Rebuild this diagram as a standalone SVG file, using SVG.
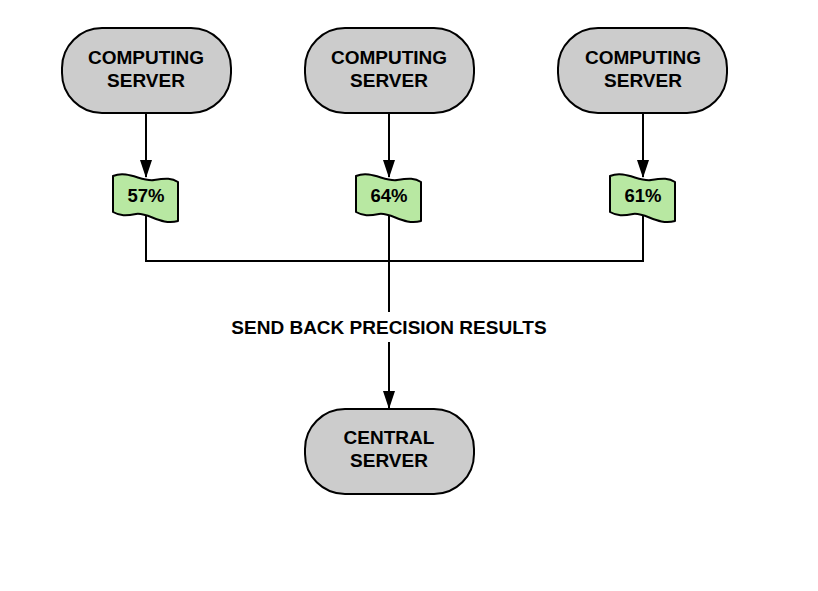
<svg xmlns="http://www.w3.org/2000/svg" width="818" height="591" viewBox="0 0 818 591">
<style>
.node{fill:#cccccc;stroke:#000;stroke-width:2}
.flag{fill:#b8e8a2;stroke:#000;stroke-width:2;stroke-linejoin:round}
.t{font-family:"Liberation Sans",Arial,sans-serif;font-weight:bold;font-size:19px;fill:#000;text-anchor:middle}
.ft{font-family:"Liberation Sans",Arial,sans-serif;font-weight:bold;font-size:18.5px;fill:#000;text-anchor:middle}
.c{fill:none;stroke:#000;stroke-width:2}
</style>
<defs>
<marker id="ah" markerWidth="18" markerHeight="12" refX="17" refY="6" orient="auto" markerUnits="userSpaceOnUse" viewBox="0 0 18 12">
<path d="M0,0 L18,6 L0,12 Z" fill="#000"/>
</marker>
<path id="fl" d="M-33,-22 C-18,-28 -4,-16 8,-18 C20,-20 26,-20 32,-16 L32,23 C15,28 2,14 -10,16 C-20,18 -26,18 -33,14 Z"/>
</defs>
<rect width="818" height="591" fill="#fff"/>
<g id="connectors">
<line class="c" x1="146" y1="113" x2="146" y2="177" marker-end="url(#ah)"/>
<line class="c" x1="389" y1="113" x2="389" y2="177" marker-end="url(#ah)"/>
<line class="c" x1="643" y1="113" x2="643" y2="177" marker-end="url(#ah)"/>
<polyline class="c" points="146,216 146,261 643,261 643,216"/>
<line class="c" x1="389" y1="216" x2="389" y2="312"/>
<line class="c" x1="389" y1="342" x2="389" y2="408" marker-end="url(#ah)"/>
<text class="t" x="389" y="334">SEND BACK PRECISION RESULTS</text>
</g>
<g id="cs1"><rect class="node" x="62" y="28" width="169" height="85" rx="40"/><text class="t" x="146" y="64">COMPUTING</text><text class="t" x="146" y="87">SERVER</text></g>
<g id="cs2"><rect class="node" x="305" y="28" width="169" height="85" rx="40"/><text class="t" x="389" y="64">COMPUTING</text><text class="t" x="389" y="87">SERVER</text></g>
<g id="cs3"><rect class="node" x="558" y="28" width="169" height="85" rx="40"/><text class="t" x="643" y="64">COMPUTING</text><text class="t" x="643" y="87">SERVER</text></g>
<g id="f1"><use href="#fl" class="flag" x="146" y="198"/><text class="ft" x="146" y="202">57%</text></g>
<g id="f2"><use href="#fl" class="flag" x="389" y="198"/><text class="ft" x="389" y="202">64%</text></g>
<g id="f3"><use href="#fl" class="flag" x="643" y="198"/><text class="ft" x="643" y="202">61%</text></g>
<g id="central"><rect class="node" x="305" y="409" width="169" height="85" rx="40"/><text class="t" x="389" y="444">CENTRAL</text><text class="t" x="389" y="467">SERVER</text></g>
</svg>
